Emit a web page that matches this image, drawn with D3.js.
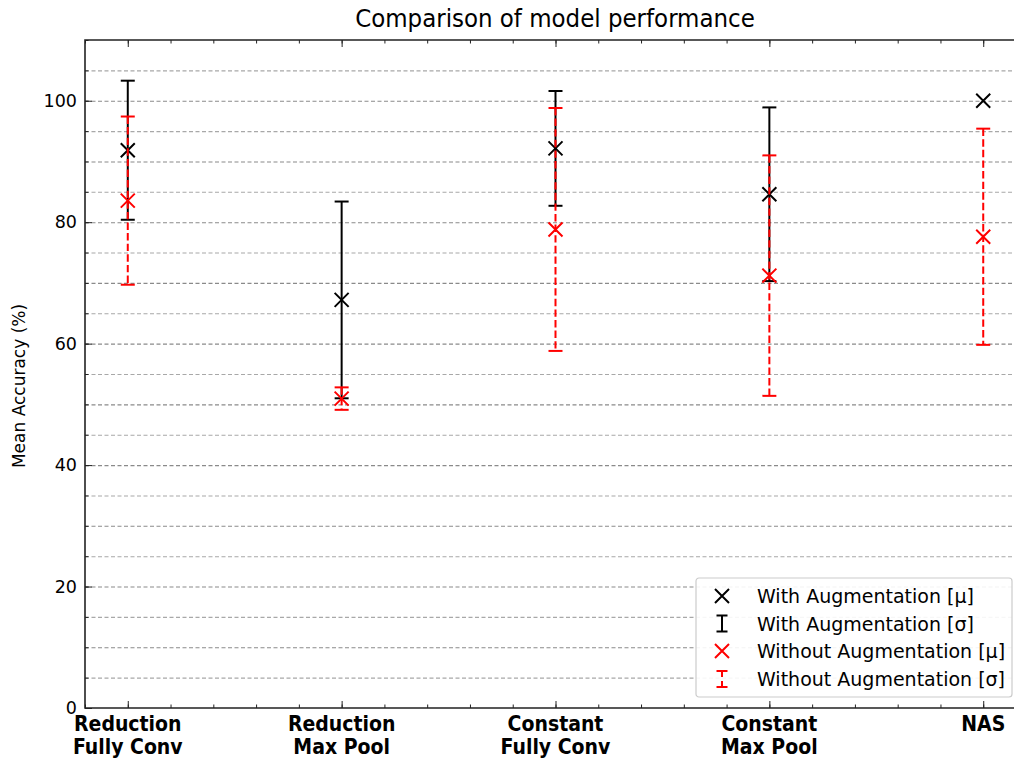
<!DOCTYPE html>
<html>
<head>
<meta charset="utf-8">
<script src="https://cdn.jsdelivr.net/npm/d3@7"></script>
<style>
  body { margin: 0; background: #fff; }
  text { font-family: "DejaVu Sans", sans-serif; fill: #000; }
</style>
</head>
<body>
<div id="chart"></div>
<script>
// chart values
const categories = [
    ["Reduction", "Fully Conv"],
    ["Reduction", "Max Pool"],
    ["Constant", "Fully Conv"],
    ["Constant", "Max Pool"],
    ["NAS"]
];
const withMean = [91.85, 67.2, 92.15, 84.6, 100];
const withStd = [11.45, 16.2, 9.45, 14.3, 0];
const withoutMean = [83.55, 50.95, 78.8, 71.2, 77.6];
const withoutStd = [13.85, 1.85, 20.0, 19.8, 17.8];
const yTicks = [0, 20, 40, 60, 80, 100];
const legendLabels = [
    "With Augmentation [\u03bc]",
    "With Augmentation [\u03c3]",
    "Without Augmentation [\u03bc]",
    "Without Augmentation [\u03c3]"
];

const width = 1014, height = 758;
const margin = {top: 40, right: -12, bottom: 50, left: 85};

const svg = d3.select("#chart")
    .append("svg")
    .attr("width", width)
    .attr("height", height);

const x = d3.scaleLinear()
    .domain([-0.2, 4.2])
    .range([margin.left, width - margin.right]);

const y = d3.scaleLinear()
    .domain([0, 110])
    .range([height - margin.bottom, margin.top]);

// grid lines every 5
const gridVals = d3.range(5, 110, 5);
svg.append("g")
    .selectAll("line")
    .data(gridVals)
    .enter()
    .append("line")
        .attr("x1", x(-0.2))
        .attr("x2", width)
        .attr("y1", d => y(d) + 0.5)
        .attr("y2", d => y(d) + 0.5)
        .attr("stroke", d => d % 10 === 0 ? "#8a8a8a" : "#a8a8a8")
        .attr("stroke-width", 1.1)
        .attr("stroke-dasharray", "4,2.5");

// axes (ticks pointing in)
const xMinor = d3.range(-0.2, 4.21, 0.2).map(v => Math.round(v * 10) / 10);
const yMinor = d3.range(0, 111, 5);

svg.append("g")
    .attr("transform", `translate(0,${y(0)})`)
    .call(d3.axisBottom(x).tickValues(xMinor).tickSize(-3.5).tickFormat(""))
    .call(g => g.select(".domain").remove());
svg.append("g")
    .attr("transform", `translate(0,${y(0)})`)
    .call(d3.axisBottom(x).tickValues(d3.range(5)).tickSize(-7).tickFormat(""))
    .call(g => g.select(".domain").remove());
svg.append("g")
    .attr("transform", `translate(0,${y(110)})`)
    .call(d3.axisTop(x).tickValues(xMinor).tickSize(-3.5).tickFormat(""))
    .call(g => g.select(".domain").remove());
svg.append("g")
    .attr("transform", `translate(0,${y(110)})`)
    .call(d3.axisTop(x).tickValues(d3.range(5)).tickSize(-7).tickFormat(""))
    .call(g => g.select(".domain").remove());

svg.append("g")
    .attr("transform", `translate(${x(-0.2)},0)`)
    .call(d3.axisLeft(y).tickValues(yMinor).tickSize(-3.5).tickFormat(""))
    .call(g => g.select(".domain").remove());
const yAxis = svg.append("g")
    .attr("transform", `translate(${x(-0.2)},0)`)
    .call(d3.axisLeft(y).tickValues(yTicks).tickSize(-7).tickPadding(8))
    .call(g => g.select(".domain").remove());
yAxis.selectAll("text")
    .style("font-size", "17.5px")
    .attr("font-family", "DejaVu Sans")
    .attr("fill", "#000");

svg.selectAll(".tick line").attr("stroke", "#222").attr("stroke-width", 1);

// spines
svg.append("path")
    .attr("d", `M${width},${y(110)}H${x(-0.2)}V${y(0)}H${width}`)
    .attr("fill", "none")
    .attr("stroke", "#222")
    .attr("stroke-width", 1.6);

// category labels
const catLabels = svg.append("g")
    .selectAll("text")
    .data(categories)
    .enter()
    .append("text")
        .attr("x", (d, i) => x(i))
        .attr("y", y(0) + 23)
        .attr("text-anchor", "middle")
        .style("font-family", "'DejaVu Sans Condensed', 'DejaVu Sans', sans-serif")
        .style("font-weight", "bold")
        .style("font-size", "21px");
catLabels.each(function(d) {
    const t = d3.select(this);
    d.forEach((line, k) => {
        t.append("tspan")
            .attr("x", t.attr("x"))
            .attr("dy", k === 0 ? 0 : 22.5)
            .text(line);
    });
});

// title and y label
svg.append("text")
    .attr("x", 555)
    .attr("y", 27)
    .attr("text-anchor", "middle")
    .style("font-family", "'DejaVu Sans Condensed', 'DejaVu Sans', sans-serif")
    .style("font-size", "25.5px")
    .text("Comparison of model performance");

svg.append("text")
    .attr("transform", `translate(25,${(y(0) + y(110)) / 2 + 12}) rotate(-90)`)
    .attr("text-anchor", "middle")
    .style("font-size", "17px")
    .text("Mean Accuracy (%)");

// error bars and markers
const cap = 7, mk = 7;

function drawErrorBars(means, stds, color, dashed) {
    const g = svg.append("g");
    means.forEach((m, i) => {
        if (stds[i] === 0) return;
        const cx = x(i);
        g.append("line")
            .attr("x1", cx).attr("x2", cx)
            .attr("y1", y(m + stds[i])).attr("y2", y(m - stds[i]))
            .attr("stroke", color)
            .attr("stroke-width", 2)
            .attr("stroke-dasharray", dashed ? "7.4,3.2" : null);
        [m + stds[i], m - stds[i]].forEach(v => {
            g.append("line")
                .attr("x1", cx - cap).attr("x2", cx + cap)
                .attr("y1", y(v)).attr("y2", y(v))
                .attr("stroke", color)
                .attr("stroke-width", 2);
        });
    });
}

function xMarker(g, cx, cy, color) {
    g.append("path")
        .attr("d", `M${cx - mk},${cy - mk}L${cx + mk},${cy + mk}M${cx - mk},${cy + mk}L${cx + mk},${cy - mk}`)
        .attr("stroke", color)
        .attr("stroke-width", 2)
        .attr("fill", "none");
}

function drawMarkers(means, color) {
    const g = svg.append("g");
    means.forEach((m, i) => xMarker(g, x(i), y(m), color));
}

drawErrorBars(withMean, withStd, "#000", false);
drawMarkers(withMean, "#000");
drawErrorBars(withoutMean, withoutStd, "#ff0000", true);
drawMarkers(withoutMean, "#ff0000");

// legend
const lg = svg.append("g").attr("transform", "translate(696,578)");
lg.append("rect")
    .attr("width", 316)
    .attr("height", 119)
    .attr("rx", 3)
    .attr("fill", "#fff")
    .attr("fill-opacity", 0.9)
    .attr("stroke", "#ccc")
    .attr("stroke-width", 1.2);

const rowY = [18, 45.5, 73, 101];
const icx = 26;
xMarker(lg, icx, rowY[0], "#000");
lg.append("path")
    .attr("d", `M${icx - 5.5},${rowY[1] - 8}H${icx + 5.5}M${icx},${rowY[1] - 8}V${rowY[1] + 8}M${icx - 5.5},${rowY[1] + 8}H${icx + 5.5}`)
    .attr("stroke", "#000").attr("stroke-width", 2).attr("fill", "none");
xMarker(lg, icx, rowY[2], "#ff0000");
lg.append("path")
    .attr("d", `M${icx - 5.5},${rowY[3] - 8}H${icx + 5.5}M${icx - 5.5},${rowY[3] + 8}H${icx + 5.5}`)
    .attr("stroke", "#ff0000").attr("stroke-width", 2).attr("fill", "none");
lg.append("line")
    .attr("x1", icx).attr("x2", icx)
    .attr("y1", rowY[3] - 8).attr("y2", rowY[3] + 8)
    .attr("stroke", "#ff0000").attr("stroke-width", 2)
    .attr("stroke-dasharray", "6,4");

lg.selectAll("text.lab")
    .data(legendLabels)
    .enter()
    .append("text")
        .attr("class", "lab")
        .attr("x", 61)
        .attr("y", (d, i) => rowY[i] + 7)
        .style("font-size", "19px")
        .text(d => d);
</script>
</body>
</html>
